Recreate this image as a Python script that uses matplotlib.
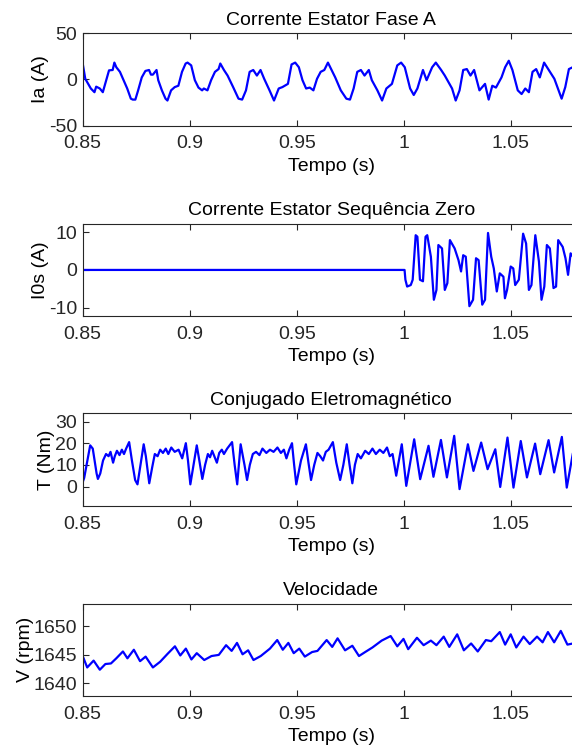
import numpy as np
import matplotlib.pyplot as plt

plt.rcParams['font.family'] = ['Liberation Sans', 'DejaVu Sans']
plt.rcParams['axes.unicode_minus'] = False

# ---- data ----
# Corrente estator fase A
t_ia = [0.8500, 0.8512, 0.8538, 0.8555, 0.8563, 0.8580, 0.8594, 0.8614, 0.8623, 0.8640,
        0.8648, 0.8657, 0.8674, 0.8691, 0.8708, 0.8725, 0.8734, 0.8746, 0.8759, 0.8776,
        0.8793, 0.8810, 0.8819, 0.8828, 0.8845, 0.8853, 0.8870, 0.8887, 0.8896, 0.8913,
        0.8930, 0.8947, 0.8964, 0.8981, 0.8990, 0.9007, 0.9024, 0.9041, 0.9058, 0.9066,
        0.9083, 0.9100, 0.9118, 0.9135, 0.9143, 0.9160, 0.9177, 0.9203, 0.9228, 0.9245,
        0.9263, 0.9280, 0.9297, 0.9314, 0.9331, 0.9348, 0.9373, 0.9394, 0.9416, 0.9433,
        0.9459, 0.9476, 0.9493, 0.9510, 0.9527, 0.9544, 0.9561, 0.9578, 0.9595, 0.9612,
        0.9629, 0.9646, 0.9663, 0.9680, 0.9706, 0.9732, 0.9749, 0.9766, 0.9783, 0.9800,
        0.9817, 0.9837, 0.9851, 0.9877, 0.9899, 0.9919, 0.9945, 0.9970, 0.9988, 1.0005,
        1.0030, 1.0047, 1.0064, 1.0090, 1.0107, 1.0133, 1.0150, 1.0175, 1.0192, 1.0226,
        1.0243, 1.0261, 1.0278, 1.0295, 1.0312, 1.0329, 1.0354, 1.0380, 1.0397, 1.0414,
        1.0431, 1.0457, 1.0474, 1.0491, 1.0508, 1.0533, 1.0551, 1.0568, 1.0585, 1.0602,
        1.0619, 1.0636, 1.0656, 1.0678, 1.0704, 1.0738, 1.0755, 1.0772, 1.0790]
ia = [17, 0.5, -10, -14, -8, -10, -14, 2, 9.6, 10,
      18, 13, 8, -1, -10, -21, -22, -22, -12, 2,
      9, 10, 5, 5, 10, -1, -12, -21, -23, -12,
      -8.5, -7, 8, 17, 18, 15, -1, -9, -12, -10,
      -12, -1, 8, 11, 17, 10, 4, -8.5, -21, -22,
      -12, 8, 10, 4, 10, 0.5, -12, -23, -10, -8.5,
      -5, 16, 18, 13, -1, -10, -9, -12, 0.5, 8,
      10, 18, 10, 2, -12, -21, -22, -10, 8, 10,
      4, 10, -1, -12, -23, -10, -5, 15, 18, 13,
      -10, -17, -10, 10, -1, 13, 18, 10, 4, -10,
      -23, -12, 10, 11, 4, 10, -12, -5, -22, -7,
      -9, 2, 13, 20, 10, -12, -16, -10, -14, 8,
      11, 2, 18, 10, 0.5, -21, -8.5, 11, 13]

# Corrente estator sequencia zero
t_i0 = [0.8500, 1.0004, 1.0008, 1.0016, 1.0033, 1.0042, 1.0056, 1.0064, 1.0076, 1.0090,
        1.0102, 1.0110, 1.0127, 1.0141, 1.0153, 1.0162, 1.0179, 1.0192, 1.0204, 1.0216,
        1.0238, 1.0256, 1.0268, 1.0278, 1.0290, 1.0307, 1.0324, 1.0338, 1.0350, 1.0367,
        1.0380, 1.0394, 1.0409, 1.0421, 1.0435, 1.0449, 1.0466, 1.0473, 1.0483, 1.0500,
        1.0512, 1.0521, 1.0538, 1.0558, 1.0572, 1.0585, 1.0597, 1.0615, 1.0632, 1.0644,
        1.0657, 1.0669, 1.0683, 1.0700, 1.0712, 1.0722, 1.0743, 1.0756, 1.0768, 1.0780,
        1.0791]
i0 = [0, 0, -2.6, -4.4, -4, -2.6, 9.2, 8.8, -2.6, -3,
      8.8, 9.2, 3.5, -7.9, -5.3, 6.6, 5.7, -5.3, -3.5, 7.9,
      5.7, 2.6, -0.4, 3.9, 3.5, -9.6, -7.9, 3.1, 2.6, -9.2,
      -7.9, 9.8, 3.5, 0.4, -5.7, -0.9, -1.8, -7.5, -5.3, 0.9,
      0.4, -4, -2.6, 9.6, 7, -5.3, -4, 9.2, 2.2, -7.9,
      -4.4, 6.6, 5.7, -4.8, -4.4, 7.9, 6.1, 3.1, -1.3, 4.4,
      3.5]

# Conjugado eletromagnetico
t_te = [0.8500, 0.8507, 0.8520, 0.8535, 0.8547, 0.8565, 0.8571, 0.8582, 0.8595, 0.8609,
        0.8621, 0.8630, 0.8642, 0.8650, 0.8660, 0.8672, 0.8683, 0.8693, 0.8703, 0.8717,
        0.8730, 0.8745, 0.8756, 0.8770, 0.8785, 0.8795, 0.8811, 0.8825, 0.8837, 0.8850,
        0.8862, 0.8875, 0.8888, 0.8900, 0.8914, 0.8930, 0.8948, 0.8965, 0.8982, 0.8992,
        0.9003, 0.9018, 0.9033, 0.9045, 0.9059, 0.9072, 0.9085, 0.9095, 0.9105, 0.9115,
        0.9127, 0.9138, 0.9150, 0.9160, 0.9175, 0.9198, 0.9210, 0.9222, 0.9238, 0.9256,
        0.9268, 0.9281, 0.9295, 0.9310, 0.9326, 0.9340, 0.9358, 0.9375, 0.9392, 0.9410,
        0.9426, 0.9440, 0.9452, 0.9465, 0.9478, 0.9488, 0.9498, 0.9520, 0.9543, 0.9555,
        0.9567, 0.9582, 0.9597, 0.9610, 0.9623, 0.9636, 0.9649, 0.9669, 0.9685, 0.9703,
        0.9718, 0.9734, 0.9747, 0.9760, 0.9772, 0.9785, 0.9800, 0.9820, 0.9837, 0.9854,
        0.9870, 0.9888, 0.9905, 0.9922, 0.9935, 0.9948, 0.9965, 0.9991, 1.0012, 1.0049,
        1.0077, 1.0116, 1.0139, 1.0174, 1.0202, 1.0236, 1.0261, 1.0300, 1.0326, 1.0362,
        1.0392, 1.0428, 1.0451, 1.0485, 1.0513, 1.0547, 1.0576, 1.0614, 1.0638, 1.0677,
        1.0703, 1.0739, 1.0762, 1.0790]
te = [2, 4, 11, 19, 17.5, 6, 3.5, 6, 12, 15,
      14, 16, 11, 14, 16.5, 14.5, 17, 15, 17.5, 20.5,
      12, 3, 1, 10, 19.5, 14, 1.5, 9, 15, 14,
      17, 15.5, 17.5, 15, 18, 16, 17, 13, 20, 12,
      1, 10, 19, 12, 3.5, 10, 15, 13.5, 16.5, 14,
      11, 15.5, 17, 15, 17.5, 20.5, 10, 1, 19.5, 10,
      3, 10, 15, 16, 14.5, 17.5, 15.5, 17, 16, 18,
      15.5, 17, 13, 17, 20, 10, 1, 12, 19.5, 11,
      3, 10, 15.5, 14, 12, 16, 17, 20.5, 11, 3,
      10, 19.5, 10, 1.5, 10, 15, 13, 16.5, 15, 17.5,
      15, 17, 15.5, 18, 14, 15, 5, 19.5, 0.3, 21.8,
      3.4, 18.8, 4.5, 21.5, 4.2, 23.4, -1.2, 19.5, 7.2, 20.3,
      8.0, 17.2, -0.2, 22.6, -0.5, 21.0, 4.2, 19.8, 5.7, 21.4,
      6.5, 22.9, -0.5, 15]

# Velocidade
t_vel = [0.8500, 0.8521, 0.8551, 0.8580, 0.8606, 0.8632, 0.8657, 0.8688, 0.8709, 0.8739,
         0.8768, 0.8794, 0.8828, 0.8862, 0.8897, 0.8931, 0.8956, 0.8982, 0.9008, 0.9033,
         0.9068, 0.9102, 0.9136, 0.9170, 0.9196, 0.9221, 0.9247, 0.9273, 0.9298, 0.9332,
         0.9375, 0.9409, 0.9435, 0.9461, 0.9486, 0.9512, 0.9538, 0.9572, 0.9597, 0.9640,
         0.9666, 0.9691, 0.9726, 0.9760, 0.9791, 0.9820, 0.9854, 0.9897, 0.9939, 0.9970,
         0.9999, 1.0021, 1.0062, 1.0093, 1.0127, 1.0153, 1.0187, 1.0213, 1.0250, 1.0281,
         1.0315, 1.0346, 1.0384, 1.0409, 1.0449, 1.0474, 1.0500, 1.0526, 1.0560, 1.0589,
         1.0623, 1.0649, 1.0674, 1.0703, 1.0734, 1.0765, 1.0791]
vel = [1644.8, 1642.8, 1644.0, 1642.4, 1643.4, 1643.5, 1644.4, 1645.6, 1644.4, 1645.9,
       1643.9, 1644.7, 1642.8, 1643.8, 1645.2, 1646.5, 1644.9, 1646.1, 1644.2, 1645.3,
       1644.1, 1644.8, 1645.0, 1646.7, 1645.7, 1647.1, 1645.1, 1645.8, 1644.1, 1644.8,
       1646.1, 1647.6, 1645.9, 1647.1, 1645.3, 1646.1, 1644.7, 1645.5, 1645.7, 1647.6,
       1646.4, 1647.9, 1645.8, 1646.6, 1644.8, 1645.5, 1646.3, 1647.5, 1648.3, 1646.5,
       1647.8, 1646.0, 1648.0, 1646.7, 1647.5, 1646.7, 1648.2, 1646.4, 1648.6, 1645.8,
       1647.0, 1645.6, 1647.6, 1647.4, 1649.0, 1646.8, 1648.6, 1646.3, 1648.2, 1646.9,
       1648.2, 1647.2, 1649.0, 1647.2, 1649.2, 1646.8, 1647.0]

titles = ['Corrente Estator Fase A', 'Corrente Estator Sequência Zero',
          'Conjugado Eletromagnético', 'Velocidade']
ylabels = ['Ia (A)', 'I0s (A)', 'T (Nm)', 'V (rpm)']
yticks = [[-50, 0, 50], [-10, 0, 10], [0, 10, 20, 30], [1640, 1645, 1650]]
ylims = [(-50, 50), (-12.2, 12.3), (-8.9, 33.8), (1637.8, 1654.0)]
xticks = [0.85, 0.9, 0.95, 1.0, 1.05]
xticklabels = ['0.85', '0.9', '0.95', '1', '1.05']
series = [(t_ia, ia), (t_i0, i0), (t_te, te), (t_vel, vel)]

# ---- layout (pixels of the 572x746 picture) ----
W, H = 572.0, 746.0
left_px, right_px = 82.7, 580.0
tops = [33.0, 223.5, 413.3, 603.5]
h_px = 92.5
px_per_s = 2140.0
ink = '#262626'

fig = plt.figure(figsize=(W / 100, H / 100), dpi=100)

for i in range(4):
    ax = fig.add_axes([left_px / W, 1 - (tops[i] + h_px) / H,
                       (right_px - left_px) / W, h_px / H])
    t, y = series[i]
    ax.plot(t, y, color=(0, 0, 1), lw=1.6)
    ax.set_xlim(0.85, 0.85 + (right_px - left_px) / px_per_s)
    ax.set_ylim(*ylims[i])
    ax.set_xticks(xticks)
    ax.set_xticklabels(xticklabels)
    ax.set_yticks(yticks[i])
    ax.tick_params(direction='in', top=True, right=True, length=4, width=0.8,
                   labelsize=14, colors=ink)
    ax.tick_params(axis='x', pad=7)
    ax.tick_params(axis='y', pad=4)
    for s in ax.spines.values():
        s.set_color(ink)
        s.set_linewidth(0.8)
    ax.set_title(titles[i], fontsize=14, color='black', pad=6)
    ax.set_xlabel('Tempo (s)', fontsize=14, color='black', labelpad=4)
    ax.set_ylabel(ylabels[i], fontsize=14, color='black', labelpad=0)

fig.savefig('out.png', dpi=100)
